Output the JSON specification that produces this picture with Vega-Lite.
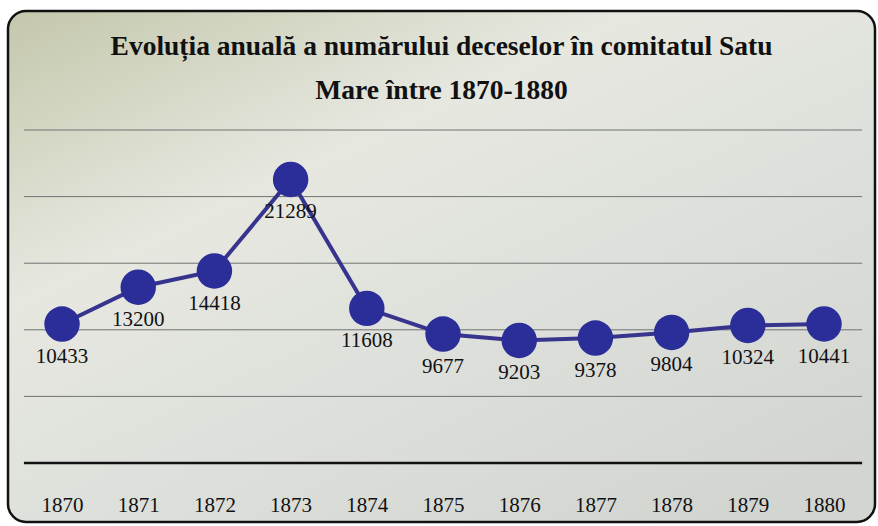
{
  "$schema": "https://vega.github.io/schema/vega-lite/v6.json",
  "width": 878,
  "height": 526,
  "autosize": {"type": "fit", "contains": "padding"},
  "padding": {"left": 8, "top": 11, "right": 3, "bottom": 4},
  "background": "white",
  "title": {
    "text": ["Evoluția anuală a numărului deceselor în comitatul Satu", "Mare între 1870-1880"],
    "font": "'Liberation Serif', 'DejaVu Serif', serif",
    "fontSize": 27.5,
    "fontWeight": "bold",
    "color": "#111111",
    "anchor": "middle",
    "lineHeight": 44,
    "offset": -93
  },
  "config": {
    "view": {
      "stroke": "#111111",
      "strokeWidth": 2.5,
      "cornerRadius": 18,
      "fill": {
        "gradient": "linear",
        "x1": 0, "y1": 0, "x2": 0.8, "y2": 1,
        "stops": [
          {"offset": 0, "color": "#c4c7ab"},
          {"offset": 0.35, "color": "#e6e8e0"},
          {"offset": 0.7, "color": "#dcdeda"},
          {"offset": 1, "color": "#d3d5d1"}
        ]
      }
    }
  },
  "datasets": {
    "deaths": [
      {"year": 1870, "deaths": 10433},
      {"year": 1871, "deaths": 13200},
      {"year": 1872, "deaths": 14418},
      {"year": 1873, "deaths": 21289},
      {"year": 1874, "deaths": 11608},
      {"year": 1875, "deaths": 9677},
      {"year": 1876, "deaths": 9203},
      {"year": 1877, "deaths": 9378},
      {"year": 1878, "deaths": 9804},
      {"year": 1879, "deaths": 10324},
      {"year": 1880, "deaths": 10441}
    ],
    "grid": [
      {"v": 5000}, {"v": 10000}, {"v": 15000}, {"v": 20000}, {"v": 25000}
    ],
    "base": [{"v": 0}]
  },
  "layer": [
    {
      "data": {"name": "grid"},
      "mark": {"type": "rule", "color": "#6f7472", "strokeWidth": 1},
      "encoding": {
        "y": {"field": "v", "type": "quantitative", "scale": {"domain": [-4430, 33935], "nice": false, "zero": false}, "axis": null},
        "x": {
          "datum": 1869.5, "type": "quantitative",
          "scale": {"domain": [1869.291, 1880.669], "nice": false, "zero": false},
          "axis": {
            "values": [1870, 1871, 1872, 1873, 1874, 1875, 1876, 1877, 1878, 1879, 1880],
            "format": "d",
            "offset": -59,
            "domain": false,
            "ticks": false,
            "grid": false,
            "labelPadding": 31,
            "labelFont": "'Liberation Serif', 'DejaVu Serif', serif",
            "labelFontSize": 21,
            "labelColor": "#111111",
            "title": null
          }
        },
        "x2": {"datum": 1880.5}
      }
    },
    {
      "data": {"name": "base"},
      "mark": {"type": "rule", "color": "#111111", "strokeWidth": 2.5},
      "encoding": {
        "y": {"field": "v", "type": "quantitative"},
        "x": {"datum": 1869.5, "type": "quantitative"},
        "x2": {"datum": 1880.5}
      }
    },
    {
      "data": {"name": "deaths"},
      "mark": {"type": "line", "color": "#36348c", "strokeWidth": 4},
      "encoding": {
        "x": {"field": "year", "type": "quantitative"},
        "y": {"field": "deaths", "type": "quantitative"}
      }
    },
    {
      "data": {"name": "deaths"},
      "mark": {"type": "circle", "color": "#2b2e98", "opacity": 1, "size": 1257},
      "encoding": {
        "x": {"field": "year", "type": "quantitative"},
        "y": {"field": "deaths", "type": "quantitative"}
      }
    },
    {
      "data": {"name": "deaths"},
      "mark": {"type": "text", "dy": 33, "font": "'Liberation Serif', 'DejaVu Serif', serif", "fontSize": 21, "color": "#111111"},
      "encoding": {
        "x": {"field": "year", "type": "quantitative"},
        "y": {"field": "deaths", "type": "quantitative"},
        "text": {"field": "deaths", "type": "quantitative", "format": "d"}
      }
    }
  ]
}
